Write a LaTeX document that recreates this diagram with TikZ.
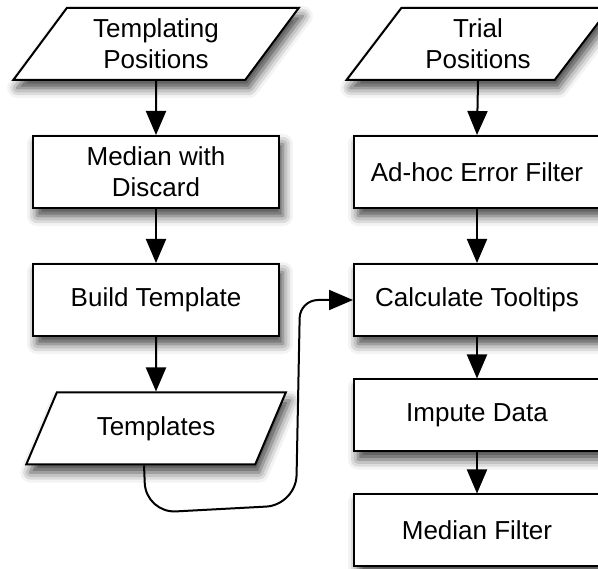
\documentclass[tikz,border=0pt]{standalone}
\usepackage{fontspec}
\setmainfont{Liberation Sans}
\usetikzlibrary{shapes.geometric,arrows.meta,shadows.blur}

\begin{document}
\begin{tikzpicture}[x=1pt,y=-1pt]
		\tikzstyle{every node}+=[inner sep=0pt, align=center, font=\fontsize{26}{31}\selectfont]
		\tikzstyle{dropshadow}=[blur shadow={shadow xshift=4pt, shadow yshift=-8pt, shadow blur radius=10pt, shadow opacity=75}]
		\tikzstyle{procbox}=[draw=black, fill=white, line width=2pt, minimum width=246pt, minimum height=72pt, dropshadow]
		\tikzstyle{databox}=[trapezium, trapezium left angle=53, trapezium right angle=127, trapezium stretches=true, draw=black, fill=white, line width=2pt, minimum height=72pt, dropshadow]
		\tikzstyle{flow}=[black, line width=2pt, -{Triangle[length=24pt,width=20pt]}]
		\useasboundingbox (0,0) rectangle (598,569);
		% left column
		\node [databox, minimum width=286pt] (tpos) at (156,44) {Templating\\Positions};
		\node [procbox] (mwd) at (156,172) {Median with\\Discard};
		\node [procbox] (build) at (156,300) {Build Template};
		\node [databox, minimum width=260pt] (tmpl) at (156,428.5) {Templates};
		% right column
		\node [databox, minimum width=263pt] (trial) at (478,44) {Trial\\Positions};
		\node [procbox] (adhoc) at (477,172) {Ad-hoc Error Filter};
		\node [procbox] (calc) at (477,300) {Calculate Tooltips};
		\node [procbox] (impute) at (477,415.5) {Impute Data};
		\node [procbox] (medf) at (477,530.5) {Median Filter};
		% connectors
		\draw [flow] (tpos.south) -- (mwd.north);
		\draw [flow] (mwd.south) -- (build.north);
		\draw [flow] (build.south) -- (tmpl.north);
		\draw [flow] (trial.south) -- (adhoc.north);
		\draw [flow] (adhoc.south) -- (calc.north);
		\draw [flow] (calc.south) -- (impute.north);
		\draw [flow] (impute.south) -- (medf.north);
		\draw [flow, rounded corners=30pt] ([xshift=-12pt]tmpl.south) -- (146,513) -- (296,505) [rounded corners=18pt] -- (300,300) -- (calc.west);
	\end{tikzpicture}
\end{document}
